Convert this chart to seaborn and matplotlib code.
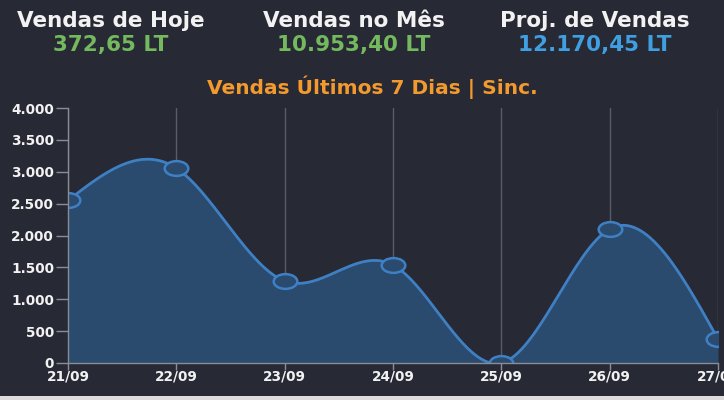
import numpy as np
import pandas as pd
import matplotlib
matplotlib.use("Agg")
import matplotlib.pyplot as plt
import seaborn as sns
from matplotlib.path import Path
from matplotlib.transforms import Affine2D
from matplotlib.patches import Rectangle

# ---- data ----
days = ["21/09", "22/09", "23/09", "24/09", "25/09", "26/09", "27/09"]
sales = [2550, 3056, 1286, 1537, 0, 2102, 373]
y_ticks = [0, 500, 1000, 1500, 2000, 2500, 3000, 3500, 4000]
y_tick_labels = ["0", "500", "1.000", "1.500", "2.000", "2.500", "3.000", "3.500", "4.000"]
kpi_titles = ["Vendas de Hoje", "Vendas no Mês", "Proj. de Vendas"]
kpi_values = ["372,65 LT", "10.953,40 LT", "12.170,45 LT"]
chart_title = "Vendas Últimos 7 Dias | Sinc."

# ---- colours ----
BG = "#272935"
FILL = "#2a4a6e"
LINE = "#3f80c4"
GRID = "#5a5d68"
SPINE = "#8a8d96"
TXT = "#f2f2f2"
kpi_colors = ["#74b95e", "#74b95e", "#3f9fe0"]
ORANGE = "#f39a2e"

sns.set_theme(style="dark")
plt.rcParams['font.family'] = ['DejaVu Sans']

# natural cubic spline for the smooth rendering
x = np.arange(len(sales), dtype=float)
y = np.array(sales, dtype=float)
n = len(x)
A = np.zeros((n, n)); r = np.zeros(n)
A[0, 0] = 1; A[-1, -1] = 1
for i in range(1, n - 1):
    A[i, i - 1] = 1; A[i, i] = 4; A[i, i + 1] = 1
    r[i] = 6 * (y[i + 1] - 2 * y[i] + y[i - 1])
M = np.linalg.solve(A, r)
xs, ys = [], []
for i in range(n - 1):
    t = np.linspace(0, 1, 60)
    s = (1 - t) * y[i] + t * y[i + 1] + ((1 - t) ** 3 - (1 - t)) * M[i] / 6 + (t ** 3 - t) * M[i + 1] / 6
    xs.extend(x[i] + t); ys.extend(s)
smooth = pd.DataFrame({"x": xs, "y": ys})
pts = pd.DataFrame({"x": x, "y": y})

fig = plt.figure(figsize=(7.24, 4.0), dpi=100, facecolor=BG)
ax = fig.add_axes([68 / 724, 37 / 400, 650 / 724, 255 / 400])
ax.set_facecolor(BG)

ax.fill_between(smooth["x"], 0, smooth["y"], color=FILL, lw=0, zorder=1)
for xi in x:
    ax.axvline(xi, color=GRID, lw=1.0, zorder=0.5)
sns.lineplot(data=smooth, x="x", y="y", ax=ax, color=LINE, lw=2.0, zorder=3, sort=False)

ell = Path.unit_circle().transformed(Affine2D().scale(1.6, 1.0))
ax.plot(pts["x"], pts["y"], ls="none", marker=ell, markersize=17,
        markerfacecolor=FILL, markeredgecolor=LINE, markeredgewidth=1.8,
        zorder=4, clip_on=True)

ax.set_xlim(0, 6)
ax.set_ylim(0, 4000)
ax.set_xticks(x)
ax.set_xticklabels(days)
ax.set_yticks(y_ticks)
ax.set_yticklabels(y_tick_labels)
ax.set_xlabel(""); ax.set_ylabel("")
ax.grid(False)
for side in ["top", "right"]:
    ax.spines[side].set_visible(False)
for side in ["left", "bottom"]:
    ax.spines[side].set_visible(True)
    ax.spines[side].set_color(SPINE)
    ax.spines[side].set_linewidth(1.0)
    ax.spines[side].set_zorder(5)
ax.tick_params(axis="both", colors=SPINE, labelcolor=TXT, labelsize=9.8,
               width=1, direction="out", left=True, bottom=True)
ax.tick_params(axis="y", pad=1, length=9)
ax.tick_params(axis="x", pad=0, length=5)
for lab in ax.get_xticklabels() + ax.get_yticklabels():
    lab.set_fontweight("bold")

centers = [111 / 724, 354 / 724, 595 / 724]
for cx, t, v, c in zip(centers, kpi_titles, kpi_values, kpi_colors):
    fig.text(cx, 1 - 21 / 400, t, ha="center", va="center", color=TXT,
             fontsize=15.5, fontweight="bold")
    fig.text(cx, 1 - 45 / 400, v, ha="center", va="center", color=c,
             fontsize=15.5, fontweight="bold")
fig.text(372 / 724, 1 - 87 / 400, chart_title, ha="center", va="center",
         color=ORANGE, fontsize=14.5, fontweight="bold")

fig.patches.append(Rectangle((0, 0), 1, 4 / 400, transform=fig.transFigure,
                             facecolor="#dcdcdc", edgecolor="none"))

fig.savefig("out.png", dpi=100, facecolor=BG)
